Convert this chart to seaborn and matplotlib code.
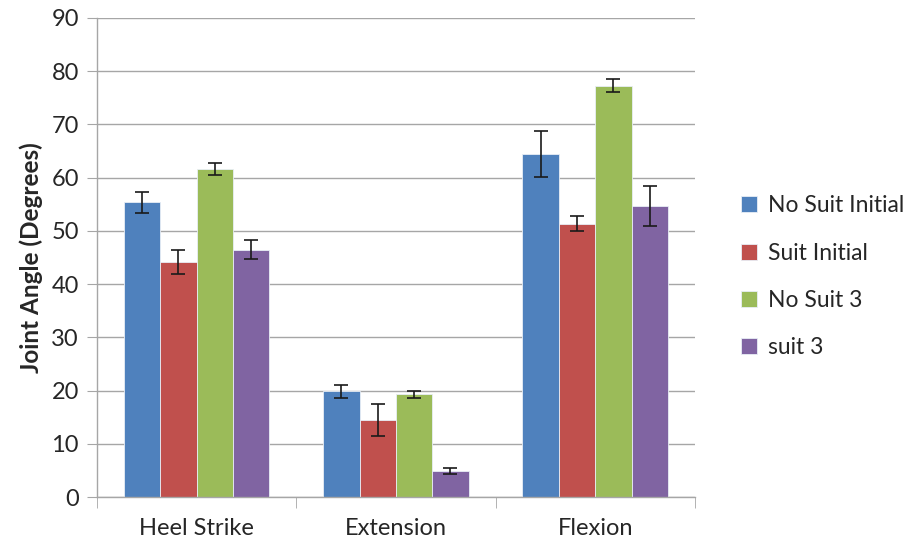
import numpy as np
import pandas as pd
import matplotlib
matplotlib.use("Agg")
import matplotlib.pyplot as plt
import seaborn as sns
from matplotlib.ticker import FixedLocator

# Data
categories = ["Heel Strike", "Extension", "Flexion"]
series = ["No Suit Initial", "Suit Initial", "No Suit 3", "suit 3"]
no_suit_initial = [55.4, 19.9, 64.4]
suit_initial = [44.2, 14.5, 51.4]
no_suit_3 = [61.7, 19.3, 77.3]
suit_3 = [46.5, 4.9, 54.7]
err_no_suit_initial = [2.0, 1.2, 4.3]
err_suit_initial = [2.3, 3.0, 1.5]
err_no_suit_3 = [1.1, 0.7, 1.2]
err_suit_3 = [1.8, 0.5, 3.7]

colors = ["#4F81BD", "#C0504D", "#9BBB59", "#8064A2"]

values = [no_suit_initial, suit_initial, no_suit_3, suit_3]
errors = [err_no_suit_initial, err_suit_initial, err_no_suit_3, err_suit_3]

rows = []
for s, vals, errs in zip(series, values, errors):
    for c, v, e in zip(categories, vals, errs):
        rows.append({"Movement": c, "Series": s, "Angle": v, "Err": e})
df = pd.DataFrame(rows)

sns.set_style("white")
plt.rcParams["font.family"] = ["Lato", "DejaVu Sans"]

fig = plt.figure(figsize=(9.06, 5.44), dpi=100)
ax = fig.add_axes([0.107, 0.086, 0.660, 0.881])

sns.barplot(data=df, x="Movement", y="Angle", hue="Series", order=categories,
            hue_order=series, palette=colors, width=0.73, errorbar=None,
            edgecolor="#e8eef6", linewidth=0.6, saturation=1, ax=ax, zorder=2)

# error bars at the bar centres
for container, s in zip(ax.containers, series):
    sub = df[df["Series"] == s].set_index("Movement").loc[categories]
    xs = [p.get_x() + p.get_width() / 2 for p in container.patches]
    ax.errorbar(xs, sub["Angle"], yerr=sub["Err"], fmt="none", ecolor="#1a1a1a",
                elinewidth=1.2, capsize=5, capthick=1.2, zorder=3)

ax.set_ylim(0, 90)
ax.set_xlim(-0.5, 2.5)
ax.set_yticks(np.arange(0, 91, 10))
ax.yaxis.grid(True, color="#a6a6a6", linewidth=1.0, zorder=0)
ax.set_axisbelow(True)

for side in ["top", "right"]:
    ax.spines[side].set_visible(False)
for side in ["left", "bottom"]:
    ax.spines[side].set_color("#a6a6a6")
    ax.spines[side].set_linewidth(1.0)

ax.tick_params(axis="y", which="major", direction="out", length=7, color="#a6a6a6",
               labelsize=17, labelcolor="#262626", left=True, pad=6)
ax.tick_params(axis="x", which="major", length=0, labelsize=17, labelcolor="#262626", pad=15)
ax.xaxis.set_minor_locator(FixedLocator([-0.5, 0.5, 1.5, 2.5]))
ax.tick_params(axis="x", which="minor", direction="out", length=8, color="#a6a6a6", bottom=True)

ax.set_xlabel("")
ax.set_ylabel("Joint Angle (Degrees)", fontsize=17.5, fontweight="bold", labelpad=6)

ax.legend(loc="center left", bbox_to_anchor=(1.042, 0.46), frameon=False, fontsize=16.5,
          handlelength=0.7, handleheight=0.7, handletextpad=0.5, labelspacing=1.15)

fig.savefig("out.png", dpi=100)
